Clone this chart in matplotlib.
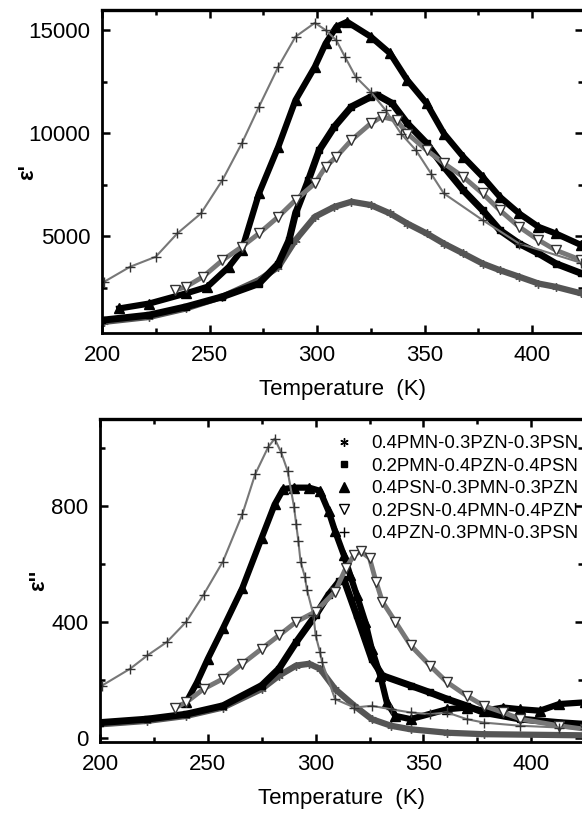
import matplotlib
matplotlib.use("Agg")
import matplotlib.pyplot as plt
from matplotlib.ticker import MultipleLocator

plt.rcParams['font.family'] = ['Liberation Sans', 'DejaVu Sans']

labels = ["0.4PMN-0.3PZN-0.3PSN", "0.2PMN-0.4PZN-0.4PSN", "0.4PSN-0.3PMN-0.3PZN",
          "0.2PSN-0.4PMN-0.4PZN", "0.4PZN-0.3PMN-0.3PSN"]

# real part (top panel)
t1_top = [201, 222, 239, 256, 273, 282, 290, 299, 308, 316, 325, 334, 342, 351, 359, 368, 377, 385, 394, 403, 411, 423]
e1_top = [840, 1080, 1490, 2060, 2870, 3500, 4810, 5940, 6420, 6670, 6510, 6100, 5610, 5130, 4640, 4160, 3670, 3350, 3030, 2700, 2540, 2220]
t2_top = [200, 222, 239, 256, 273, 282, 287, 290, 296, 301, 308, 316, 325, 328, 335, 342, 351, 359, 368, 377, 385, 394, 403, 411, 423]
e2_top = [920, 1170, 1570, 2060, 2700, 3670, 4810, 6100, 7720, 9170, 10300, 11280, 11760, 11850, 11440, 10470, 9500, 8370, 7230, 6260, 5290, 4640, 4160, 3670, 3190]
t3_top = [208, 222, 239, 249, 259, 265, 273, 282, 290, 299, 304, 309, 314, 325, 334, 342, 351, 359, 368, 377, 385, 394, 403, 411, 423]
e3_top = [1490, 1730, 2220, 2540, 3510, 4320, 7070, 9340, 11600, 13220, 14350, 15160, 15400, 14680, 13870, 12570, 11440, 9980, 8850, 7880, 6910, 6100, 5450, 5130, 4560]
t4_top = [234, 239, 247, 256, 265, 273, 282, 290, 299, 304, 309, 316, 325, 330, 337, 342, 351, 359, 368, 377, 385, 394, 403, 411, 423]
e4_top = [2380, 2540, 3030, 3830, 4480, 5130, 5940, 6750, 7560, 8370, 8850, 9660, 10470, 10790, 10630, 9980, 9170, 8530, 7880, 7070, 6260, 5450, 4810, 4320, 3830]
t5_top = [201, 213, 225, 235, 246, 256, 265, 273, 282, 290, 299, 304, 309, 313, 318, 325, 332, 339, 346, 353, 359, 377, 394, 423]
e5_top = [2784, 3510, 4000, 5130, 6100, 7720, 9500, 11280, 13220, 14680, 15350, 15000, 14500, 13700, 12730, 12000, 11100, 9980, 9170, 8040, 7070, 5780, 4640, 3700]

# imaginary part (bottom panel)
t1_bot = [200, 222, 240, 257, 275, 283, 291, 297, 302, 309, 318, 326, 335, 344, 361, 378, 425]
e1_bot = [46, 58, 75, 104, 168, 214, 249, 255, 238, 168, 110, 64, 41, 29, 17, 12, 8]
t2_bot = [200, 222, 240, 257, 275, 283, 291, 300, 306, 311, 313, 319, 326, 331, 344, 353, 361, 370, 378, 395, 413, 425]
e2_bot = [52, 64, 81, 110, 180, 238, 330, 423, 493, 540, 548, 423, 272, 214, 180, 156, 133, 110, 87, 64, 52, 46]
t3_bot = [240, 245, 250, 257, 266, 275, 281, 285, 290, 297, 302, 306, 309, 313, 316, 319, 323, 326, 330, 333, 337, 344, 361, 370, 378, 387, 395, 404, 413, 425]
e3_bot = [122, 191, 272, 377, 516, 690, 805, 858, 863, 863, 852, 782, 713, 632, 562, 493, 400, 307, 214, 122, 75, 64, 98, 104, 93, 104, 98, 93, 116, 122]
t4_bot = [235, 240, 248, 257, 266, 275, 283, 291, 300, 309, 314, 318, 321, 325, 328, 331, 337, 344, 353, 361, 370, 378, 387, 395, 413, 425]
e4_bot = [104, 122, 168, 203, 255, 307, 353, 400, 435, 504, 585, 632, 643, 620, 539, 469, 400, 319, 249, 191, 145, 110, 87, 64, 41, 29]
t5_bot = [201, 214, 222, 231, 240, 248, 257, 266, 272, 278, 281, 284, 287, 290, 291, 292, 293, 295, 296, 299, 300, 302, 303, 309, 318, 326, 335, 344, 353, 361, 370, 378, 395, 413, 425]
e5_bot = [180, 238, 284, 330, 400, 493, 608, 771, 910, 1003, 1032, 985, 921, 796, 736, 678, 608, 556, 510, 423, 353, 296, 261, 133, 104, 110, 98, 87, 81, 87, 64, 52, 41, 35, 29]

styles = [
    dict(marker=(6, 2, 0), color='#555555', mfc='#555555', mec='#555555', ms=6, lw=4.5),
    dict(marker='s', color='black', mfc='black', mec='black', ms=5, lw=5),
    dict(marker='^', color='black', mfc='black', mec='black', ms=7, lw=4.5),
    dict(marker='v', color='#777777', mfc='white', mec='#333333', ms=7, lw=3.5),
    dict(marker='+', color='#777777', mfc='#333333', mec='#333333', ms=7, lw=1.5),
]

top_data = [(t1_top, e1_top), (t2_top, e2_top), (t3_top, e3_top), (t4_top, e4_top), (t5_top, e5_top)]
bot_data = [(t1_bot, e1_bot), (t2_bot, e2_bot), (t3_bot, e3_bot), (t4_bot, e4_bot), (t5_bot, e5_bot)]

W, H = 582, 813
fig = plt.figure(figsize=(W / 100, H / 100), dpi=100)
ax1 = fig.add_axes([102 / W, 1 - 333 / H, 481 / W, 322.5 / H])
ax2 = fig.add_axes([100 / W, 1 - 742 / H, 483 / W, 323 / H])


def style_axes(ax):
    for sp in ax.spines.values():
        sp.set_linewidth(2.0)
    ax.spines['top'].set_linewidth(2.4)
    ax.tick_params(which='both', direction='in', top=True, right=True, width=1.8, labelsize=16, pad=8.5)
    ax.tick_params(which='major', length=6)
    ax.tick_params(which='minor', length=3.5)
    ax.xaxis.set_major_locator(MultipleLocator(50))
    ax.xaxis.set_minor_locator(MultipleLocator(25))
    ax.set_xlabel("Temperature  (K)", fontsize=16, labelpad=9.5)


for (t, e), st in zip(top_data, styles):
    ax1.plot(t, e, **st)
ax1.set_xlim(200, 423.7)
ax1.set_ylim(300, 15950)
ax1.yaxis.set_major_locator(MultipleLocator(5000))
ax1.yaxis.set_minor_locator(MultipleLocator(2500))
style_axes(ax1)
ax1.set_ylabel("ε'", fontsize=16, fontweight='bold')
ax1.yaxis.set_label_coords((38 - 102) / 481, 0.5)

handles = []
for (t, e), st, lab in zip(bot_data, styles, labels):
    ax2.plot(t, e, **st)
    h, = ax2.plot([], [], linestyle='none', marker=st['marker'], mfc=st['mfc'],
                  mec='black', ms=st['ms'], label=lab)
    handles.append(h)
ax2.set_xlim(200, 424)
ax2.set_ylim(-15, 1100)
ax2.yaxis.set_major_locator(MultipleLocator(400))
ax2.yaxis.set_minor_locator(MultipleLocator(200))
style_axes(ax2)
ax2.set_ylabel("ε''", fontsize=16, fontweight='bold')
ax2.yaxis.set_label_coords((49 - 100) / 483, 0.5)

ax2.legend(handles=handles, loc='upper left', bbox_to_anchor=(335 / W, 1 - 435 / H),
           bbox_transform=fig.transFigure, frameon=False, fontsize=13.4,
           handlelength=1.0, handletextpad=0.95, labelspacing=0.3, borderpad=0,
           borderaxespad=0)

fig.savefig("out.png", dpi=100)
